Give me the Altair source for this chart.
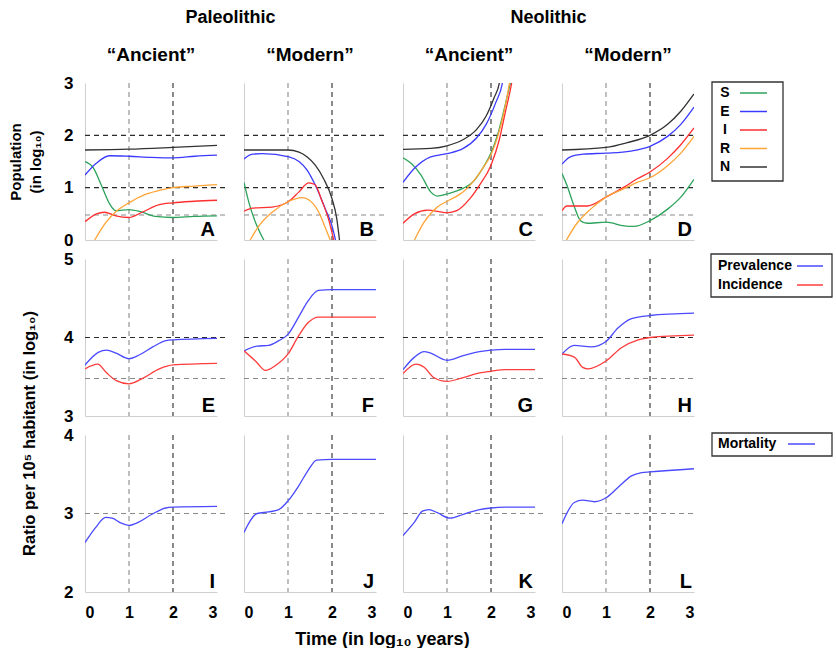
import altair as alt
import pandas as pd

FONT = "Liberation Sans"
W, H = 132, 157

# ---------------- series names / colours ----------------
SEIR_NAMES = ["S", "E", "I", "R", "N"]
SEIR_COLORS = ["#2ba35a", "#3b3bff", "#ff2e2e", "#ffa436", "#333333"]
RATE_NAMES = ["Prevalence", "Incidence"]
RATE_COLORS = ["#4a4aff", "#ff3c3c"]
MORT_NAMES = ["Mortality"]
MORT_COLORS = ["#4a4aff"]

# ---------------- panel data (x = log10 years, y = log10 value) ----------------
A_S = [(0, 1.50), (0.19, 1.38), (0.37, 1.05), (0.56, 0.69), (0.7, 0.56), (1.0, 0.58), (1.26, 0.54), (1.6, 0.45), (2.0, 0.43), (2.48, 0.45), (3.0, 0.46)]
A_E = [(0, 1.24), (0.25, 1.46), (0.55, 1.61), (1.0, 1.60), (1.5, 1.58), (2.0, 1.57), (2.5, 1.60), (3.0, 1.62)]
A_I = [(0, 0.35), (0.26, 0.50), (0.44, 0.53), (0.7, 0.46), (1.0, 0.43), (1.3, 0.53), (1.67, 0.67), (2.0, 0.71), (2.48, 0.74), (3.0, 0.76)]
A_R = [(0.22, 0.0), (0.48, 0.34), (0.7, 0.54), (1.0, 0.71), (1.37, 0.87), (1.74, 0.96), (2.0, 1.0), (2.48, 1.03), (3.0, 1.06)]
A_N = [(0, 1.72), (1.0, 1.735), (2.0, 1.77), (3.0, 1.81)]

B_S = [(0, 1.10), (0.11, 0.72), (0.26, 0.34), (0.45, 0.0)]
B_E = [(0, 1.55), (0.19, 1.64), (0.42, 1.65), (1.02, 1.59), (1.25, 1.50), (1.43, 1.34), (1.62, 1.05), (1.85, 0.59), (2.0, 0.27), (2.08, 0.0)]
B_I = [(0, 0.55), (0.19, 0.61), (0.64, 0.63), (1.02, 0.74), (1.25, 0.92), (1.47, 1.09), (1.61, 1.06), (1.77, 0.75), (1.92, 0.40), (2.04, 0.0)]
B_R = [(0.14, 0.0), (0.34, 0.27), (0.64, 0.53), (1.02, 0.74), (1.32, 0.81), (1.47, 0.77), (1.7, 0.53), (1.86, 0.21), (1.96, 0.0)]
B_N = [(0, 1.72), (1.0, 1.72), (1.25, 1.68), (1.43, 1.59), (1.62, 1.43), (1.81, 1.17), (2.0, 0.79), (2.11, 0.40), (2.17, 0.0)]

C_S = [(0, 1.57), (0.19, 1.46), (0.41, 1.24), (0.63, 0.92), (0.78, 0.84), (1.0, 0.88), (1.37, 0.99), (1.59, 1.11), (1.81, 1.37), (2.0, 1.66), (2.15, 2.01), (2.3, 2.50), (2.44, 3.0), (2.47, 3.1)]
C_E = [(0, 1.10), (0.26, 1.37), (0.63, 1.59), (1.0, 1.65), (1.37, 1.75), (1.67, 1.95), (1.89, 2.21), (2.11, 2.63), (2.26, 3.0), (2.28, 3.1)]
C_I = [(0, 0.32), (0.26, 0.50), (0.56, 0.57), (1.0, 0.52), (1.22, 0.56), (1.52, 0.79), (1.74, 1.05), (2.0, 1.43), (2.19, 1.92), (2.33, 2.46), (2.47, 3.0), (2.49, 3.1)]
C_R = [(0.26, 0.0), (0.48, 0.34), (0.78, 0.63), (1.0, 0.74), (1.37, 0.92), (1.59, 1.11), (1.81, 1.37), (2.0, 1.63), (2.15, 1.97), (2.3, 2.46), (2.42, 3.0), (2.44, 3.1)]
C_N = [(0, 1.73), (0.63, 1.75), (1.0, 1.80), (1.37, 1.92), (1.67, 2.11), (1.89, 2.37), (2.07, 2.72), (2.19, 3.0), (2.21, 3.1)]

D_S = [(0, 1.27), (0.11, 1.05), (0.27, 0.66), (0.42, 0.37), (0.57, 0.32), (1.0, 0.34), (1.41, 0.27), (1.63, 0.26), (2.0, 0.37), (2.4, 0.59), (2.7, 0.82), (3.0, 1.16)]
D_E = [(0, 1.45), (0.19, 1.59), (0.49, 1.64), (1.0, 1.66), (1.56, 1.70), (2.0, 1.79), (2.4, 1.98), (2.7, 2.21), (3.0, 2.54)]
D_I = [(0, 0.56), (0.11, 0.65), (0.57, 0.65), (1.0, 0.82), (1.41, 1.01), (1.71, 1.17), (2.0, 1.30), (2.4, 1.56), (2.7, 1.82), (3.0, 2.14)]
D_R = [(0.1, 0.0), (0.34, 0.32), (0.65, 0.59), (1.0, 0.82), (1.41, 0.98), (1.71, 1.10), (2.0, 1.19), (2.4, 1.42), (2.7, 1.66), (3.0, 1.98)]
D_N = [(0, 1.72), (1.0, 1.77), (1.48, 1.86), (2.0, 2.0), (2.4, 2.21), (2.7, 2.46), (3.0, 2.79)]

E_PREV = [(0, 3.65), (0.3, 3.81), (0.49, 3.84), (0.71, 3.80), (1.0, 3.73), (1.24, 3.78), (1.54, 3.88), (1.84, 3.96), (2.0, 3.97), (3.0, 3.99)]
E_INC = [(0, 3.60), (0.29, 3.66), (0.49, 3.55), (0.71, 3.45), (1.0, 3.41), (1.31, 3.48), (1.69, 3.60), (2.0, 3.65), (3.0, 3.67)]
F_PREV = [(0, 3.83), (0.3, 3.89), (0.56, 3.90), (0.79, 3.96), (1.0, 4.04), (1.24, 4.26), (1.46, 4.47), (1.69, 4.60), (2.0, 4.61), (3.0, 4.61)]
F_INC = [(0, 3.83), (0.26, 3.70), (0.49, 3.58), (0.71, 3.64), (1.0, 3.79), (1.24, 4.02), (1.46, 4.19), (1.69, 4.26), (2.0, 4.26), (3.0, 4.26)]
G_PREV = [(0, 3.59), (0.26, 3.75), (0.48, 3.82), (0.63, 3.80), (1.0, 3.71), (1.37, 3.77), (1.74, 3.82), (2.0, 3.84), (2.33, 3.85), (3.0, 3.85)]
G_INC = [(0, 3.54), (0.3, 3.66), (0.48, 3.62), (0.7, 3.49), (1.0, 3.44), (1.37, 3.49), (1.74, 3.55), (2.0, 3.57), (2.33, 3.59), (3.0, 3.59)]
H_PREV = [(0, 3.79), (0.28, 3.90), (0.66, 3.88), (1.0, 3.95), (1.27, 4.12), (1.58, 4.24), (2.0, 4.28), (3.0, 4.31)]
H_INC = [(0, 3.79), (0.28, 3.75), (0.47, 3.62), (0.59, 3.60), (1.0, 3.70), (1.35, 3.87), (1.73, 3.97), (2.0, 4.0), (3.0, 4.03)]

I_MORT = [(0, 2.63), (0.24, 2.82), (0.47, 2.95), (0.62, 2.94), (0.81, 2.88), (1.0, 2.85), (1.22, 2.89), (1.52, 2.99), (1.83, 3.07), (2.0, 3.08), (3.0, 3.09)]
J_MORT = [(0, 2.76), (0.3, 3.0), (0.56, 3.02), (0.79, 3.05), (1.0, 3.16), (1.24, 3.35), (1.47, 3.56), (1.65, 3.68), (2.0, 3.69), (3.0, 3.69)]
K_MORT = [(0, 2.72), (0.26, 2.89), (0.44, 3.03), (0.59, 3.05), (0.78, 3.01), (1.07, 2.94), (1.37, 2.99), (1.74, 3.05), (2.0, 3.07), (2.33, 3.08), (3.0, 3.08)]
L_MORT = [(0, 2.87), (0.28, 3.14), (0.47, 3.17), (0.74, 3.15), (1.0, 3.20), (1.27, 3.33), (1.58, 3.48), (1.81, 3.52), (2.0, 3.53), (3.0, 3.57)]

# ---------------- axes / reference lines per row ----------------
ROW_DOMAIN = {1: [0, 3], 2: [3, 5], 3: [2, 4]}
ROW_TICKS = {1: [0, 1, 2, 3], 2: [3, 4, 5], 3: [2, 3, 4]}
X_TICKS = [0, 1, 2, 3]
H_REF_DARK = {1: [2, 1], 2: [4], 3: []}
H_REF_GRAY = {1: [0.477], 2: [3.477], 3: [3]}
V_REF_DARK = [2]
V_REF_GRAY = [1]

DARK = "#2b2b2b"
GRAY = "#8a8a8a"
AXIS_GRAY = "#cfcfcf"
DASH = [5, 4]


def panel(letter, row, col, series, names, colors, title=None, header=None):
    recs = [{"x": x, "y": y, "s": n} for n, pts in zip(names, series) for x, y in pts]
    df = pd.DataFrame(recs)
    ydom = ROW_DOMAIN[row]

    xa = dict(values=X_TICKS, ticks=False, grid=False, domainColor=AXIS_GRAY,
              labels=(row == 3), title=None, format=".0f")
    if row == 3:
        xa.update(labelFont=FONT, labelFontSize=16, labelFontWeight="bold",
                  labelPadding=12, labelColor="black")
    if letter == "I":
        xa.update(title="Time (in log₁₀ years)", titleX=297, titleY=47,
                  titleFont=FONT, titleFontSize=18, titleFontWeight="bold",
                  titleBaseline="middle", titleAlign="center", titleColor="black")
    ya = dict(values=ROW_TICKS[row], ticks=False, grid=False, domainColor=AXIS_GRAY,
              labels=(col == 0), title=None, format=".0f")
    if col == 0:
        ya.update(labelFont=FONT, labelFontSize=17, labelFontWeight="bold",
                  labelPadding=12, labelColor="black")
        if row == 1:
            ya.update(title=["Population", "(in log₁₀)"], titleFont=FONT, titleFontSize=15,
                      titleFontWeight="bold", titleLineHeight=20, titlePadding=20,
                      titleColor="black")
        if row == 3:
            ya.update(title="Ratio per 10⁵ habitant (in log₁₀)", titleX=-56, titleY=-2,
                      titleFont=FONT, titleFontSize=16.5, titleFontWeight="bold",
                      titleBaseline="middle", titleAlign="center", titleColor="black")

    X = alt.X("x:Q", scale=alt.Scale(domain=[0, 3], nice=False, zero=False), axis=alt.Axis(**xa))
    Y = alt.Y("y:Q", scale=alt.Scale(domain=ydom, nice=False, zero=False), axis=alt.Axis(**ya))

    xend = 3.0 if col == 3 else 3.25
    layers = []
    for vals, shade in ((V_REF_GRAY, GRAY), (V_REF_DARK, DARK)):
        if vals:
            layers.append(alt.Chart(pd.DataFrame({"x": vals})).mark_rule(
                strokeDash=DASH, strokeWidth=1.1, color=shade).encode(x=X))
    for vals, shade in ((H_REF_GRAY[row], GRAY), (H_REF_DARK[row], DARK)):
        if vals:
            hdf = pd.DataFrame({"y": vals, "x": [0.0] * len(vals), "x2": [xend] * len(vals)})
            layers.append(alt.Chart(hdf).mark_rule(
                strokeDash=DASH, strokeWidth=1.1, color=shade).encode(y=Y, x=X, x2="x2:Q"))
    layers.append(alt.Chart(df).mark_line(interpolate="monotone", clip=True, strokeWidth=1.3).encode(
        x=X, y=Y,
        color=alt.Color("s:N", scale=alt.Scale(domain=names, range=colors), legend=None),
    ))
    ldf = pd.DataFrame({"x": [3.0], "y": [ydom[0]], "t": [letter]})
    layers.append(alt.Chart(ldf).mark_text(
        align="right", baseline="alphabetic", dx=-2, dy=-4, fontSize=20,
        fontWeight="bold", font=FONT, color="black").encode(x=X, y=Y, text="t:N"))
    if title:
        layers.append(alt.Chart(pd.DataFrame({"t": [title]})).mark_text(
            align="center", baseline="alphabetic", fontSize=19, fontWeight="bold",
            font=FONT, color="black").encode(
            x=alt.value(W / 2), y=alt.value(-22), text="t:N"))
    if header:
        layers.append(alt.Chart(pd.DataFrame({"t": [header]})).mark_text(
            align="center", baseline="alphabetic", fontSize=18, fontWeight="bold",
            font=FONT, color="black").encode(
            x=alt.value(W + 13.5), y=alt.value(-60), text="t:N"))
    return alt.layer(*layers).properties(width=W, height=H)


def legend_chart(labels, colors, box, text_x, text_align, first_y, step, rule_x):
    n = len(labels)
    ldf = pd.DataFrame({"t": labels, "c": colors,
                        "py": [first_y + i * step for i in range(n)]})
    bx1, bx2, by1, by2 = box
    frame = alt.Chart(pd.DataFrame({"k": [0]})).mark_rect(
        fillOpacity=0, stroke="#333333", strokeWidth=1.3).encode(
        x=alt.value(bx1), x2=alt.value(bx2), y=alt.value(by1), y2=alt.value(by2))
    txt = alt.Chart(ldf).mark_text(
        align=text_align, baseline="middle", fontSize=14, fontWeight="bold",
        font=FONT, color="black").encode(
        x=alt.value(text_x), y=alt.Y("py:Q", scale=None), text="t:N")
    rul = alt.Chart(ldf).mark_rule(strokeWidth=1.5).encode(
        x=alt.value(rule_x[0]), x2=alt.value(rule_x[1]),
        y=alt.Y("py:Q", scale=None), color=alt.Color("c:N", scale=None))
    return alt.layer(frame, txt, rul).properties(width=100, height=H)


pA = panel("A", 1, 0, [A_S, A_E, A_I, A_R, A_N], SEIR_NAMES, SEIR_COLORS, "“Ancient”", "Paleolithic")
pB = panel("B", 1, 1, [B_S, B_E, B_I, B_R, B_N], SEIR_NAMES, SEIR_COLORS, "“Modern”")
pC = panel("C", 1, 2, [C_S, C_E, C_I, C_R, C_N], SEIR_NAMES, SEIR_COLORS, "“Ancient”", "Neolithic")
pD = panel("D", 1, 3, [D_S, D_E, D_I, D_R, D_N], SEIR_NAMES, SEIR_COLORS, "“Modern”")
pE = panel("E", 2, 0, [E_PREV, E_INC], RATE_NAMES, RATE_COLORS)
pF = panel("F", 2, 1, [F_PREV, F_INC], RATE_NAMES, RATE_COLORS)
pG = panel("G", 2, 2, [G_PREV, G_INC], RATE_NAMES, RATE_COLORS)
pH = panel("H", 2, 3, [H_PREV, H_INC], RATE_NAMES, RATE_COLORS)
pI = panel("I", 3, 0, [I_MORT], MORT_NAMES, MORT_COLORS)
pJ = panel("J", 3, 1, [J_MORT], MORT_NAMES, MORT_COLORS)
pK = panel("K", 3, 2, [K_MORT], MORT_NAMES, MORT_COLORS)
pL = panel("L", 3, 3, [L_MORT], MORT_NAMES, MORT_COLORS)

leg1 = legend_chart(SEIR_NAMES, SEIR_COLORS, (-9, 62, -1, 98), 4, "center", 10, 18.5, (19, 46))
leg2 = legend_chart(RATE_NAMES, RATE_COLORS, (-10, 111, -5, 38), -3, "left", 7, 19, (76, 102))
leg3 = legend_chart(MORT_NAMES, MORT_COLORS, (-9, 111, -2, 21), -3, "left", 9, 19, (67, 94))

chart = alt.concat(
    pA, pB, pC, pD, leg1,
    pE, pF, pG, pH, leg2,
    pI, pJ, pK, pL, leg3,
    columns=5,
    spacing=alt.RowColnumber(row=19, column=27),
    bounds="flush",
).resolve_scale(
    color="independent", x="independent", y="independent"
).properties(
    padding={"left": 8, "top": 9, "right": 0, "bottom": 0}
).configure_view(stroke=None)

chart.save("out.html", embed_options={"renderer": "svg", "actions": False})
